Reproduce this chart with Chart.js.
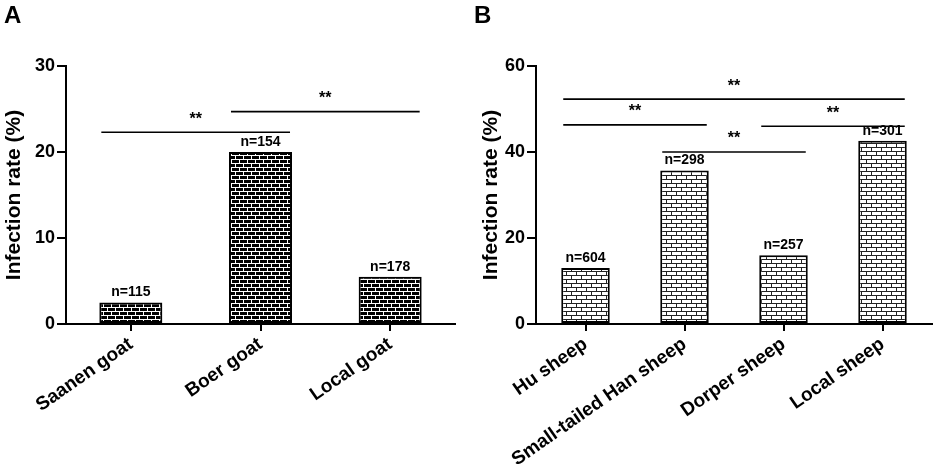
<!DOCTYPE html>
<html>
<head>
<meta charset="utf-8">
<script src="https://cdn.jsdelivr.net/npm/chart.js@4"></script>
<style>
  html, body { margin: 0; padding: 0; background: #fff; }
  #wrap { position: relative; width: 935px; height: 469px; overflow: hidden; }
  .panel { position: absolute; top: 0; height: 469px; }
  .letter { position: absolute; top: 1px; font: bold 24px "Liberation Sans", Arial, sans-serif; color: #000; }
</style>
</head>
<body>
<div id="wrap">
  <div class="panel" style="left:0;width:467px"><canvas id="goatChart" width="467" height="469"></canvas></div>
  <div class="panel" style="left:467px;width:468px"><canvas id="sheepChart" width="468" height="469"></canvas></div>
  <div class="letter" style="left:4px">A</div>
  <div class="letter" style="left:474px">B</div>
</div>
<script>
// Panel A - goats
const goatBreeds = ['Saanen goat', 'Boer goat', 'Local goat'];
const goatRates = [2.5, 20.0, 5.5];
const goatCounts = [115, 154, 178];
const goatTicks = [0, 10, 20, 30];
// significance bars: from bar, to bar, level (%)
const goatSigFrom = [0, 1];
const goatSigTo = [1, 2];
const goatSigLevel = [22.3, 24.7];

// Panel B - sheep
const sheepBreeds = ['Hu sheep', 'Small-tailed Han sheep', 'Dorper sheep', 'Local sheep'];
const sheepRates = [13.0, 35.7, 16.0, 42.6];
const sheepCounts = [604, 298, 257, 301];
const sheepTicks = [0, 20, 40, 60];
const sheepSigFrom = [0, 0, 2, 1];
const sheepSigTo = [3, 1, 3, 2];
const sheepSigLevel = [52.3, 46.3, 46.0, 40.0];

const sigMark = '**';
const FONT = "'Liberation Sans', Arial, sans-serif";

Chart.defaults.color = '#000';
Chart.defaults.font.family = FONT;

// brick fill patterns
function darkBricks() {
    const c = document.createElement('canvas');
    c.width = 8; c.height = 8;
    const g = c.getContext('2d');
    g.fillStyle = '#fff';
    g.fillRect(0, 0, 8, 8);
    g.fillStyle = '#000';
    g.fillRect(0, 0, 7, 3);
    g.fillRect(0, 4, 3, 3);
    g.fillRect(4, 4, 4, 3);
    return g.createPattern(c, 'repeat');
}

function lightBricks() {
    const c = document.createElement('canvas');
    c.width = 10; c.height = 8;
    const g = c.getContext('2d');
    g.fillStyle = '#fff';
    g.fillRect(0, 0, 10, 8);
    g.fillStyle = '#222';
    g.fillRect(0, 3, 10, 1);
    g.fillRect(0, 7, 10, 1);
    g.fillRect(9, 0, 1, 3);
    g.fillRect(4, 4, 1, 3);
    return g.createPattern(c, 'repeat');
}

// n= labels over bars + significance lines
const annotations = {
    id: 'annotations',
    afterDatasetsDraw(chart, args, opts) {
        const ctx = chart.ctx;
        const bars = chart.getDatasetMeta(0).data;
        const y = chart.scales.y;
        ctx.save();
        ctx.fillStyle = '#000';
        ctx.textAlign = 'center';
        ctx.textBaseline = 'bottom';
        ctx.font = 'bold 14px ' + FONT;
        bars.forEach((bar, i) => {
            ctx.fillText('n=' + opts.counts[i], bar.x, bar.y - 3);
        });
        ctx.strokeStyle = '#000';
        ctx.lineWidth = 1.6;
        ctx.font = 'bold 16px ' + FONT;
        ctx.textBaseline = 'middle';
        opts.from.forEach((f, k) => {
            const a = bars[f], b = bars[opts.to[k]];
            const x1 = a.x - a.width / 2 + 2;
            const x2 = b.x + b.width / 2 - 2;
            const py = y.getPixelForValue(opts.level[k]);
            ctx.beginPath();
            ctx.moveTo(x1, py);
            ctx.lineTo(x2, py);
            ctx.stroke();
            ctx.fillText(sigMark, (x1 + x2) / 2, py - 13);
        });
        ctx.restore();
    }
};

function makeChart(id, labels, values, counts, ticks, from, to, level, fill, opt) {
    return new Chart(document.getElementById(id), {
        type: 'bar',
        data: {
            labels: labels,
            datasets: [{
                data: values,
                backgroundColor: fill,
                borderColor: '#000',
                borderWidth: 2,
                borderSkipped: false,
                barPercentage: opt.bar,
                categoryPercentage: 1
            }]
        },
        options: {
            responsive: false,
            animation: false,
            layout: { padding: { left: 0, right: opt.right, top: 66, bottom: 0 } },
            plugins: {
                legend: { display: false },
                tooltip: { enabled: false },
                annotations: { counts: counts, from: from, to: to, level: level }
            },
            scales: {
                x: {
                    offset: true,
                    grid: { offset: false, drawOnChartArea: false, color: '#000', lineWidth: 2, tickLength: 7 },
                    border: { color: '#000', width: 2 },
                    ticks: {
                        minRotation: 35, maxRotation: 35, padding: 2,
                        font: { size: 19, weight: 'bold' }
                    },
                    afterFit(scale) {
                        scale.height = 145;
                        scale.paddingLeft = 0;
                        scale.paddingRight = 0;
                    }
                },
                y: {
                    min: ticks[0],
                    max: ticks[ticks.length - 1],
                    afterBuildTicks(scale) {
                        scale.ticks = ticks.map(v => ({ value: v }));
                    },
                    grid: { drawOnChartArea: false, color: '#000', lineWidth: 2, tickLength: 9 },
                    border: { color: '#000', width: 2 },
                    ticks: { padding: 2, font: { size: 18, weight: 'bold' } },
                    title: {
                        display: true,
                        text: 'Infection rate (%)',
                        font: { size: 21, weight: 'bold' },
                        padding: { top: opt.titlePad, bottom: 0 }
                    },
                    afterFit(scale) {
                        scale.width = opt.axisWidth;
                    }
                }
            }
        },
        plugins: [annotations]
    });
}

makeChart('goatChart', goatBreeds, goatRates, goatCounts, goatTicks,
    goatSigFrom, goatSigTo, goatSigLevel, darkBricks(),
    { bar: 0.486, right: 12, axisWidth: 66, titlePad: 1.5 });

makeChart('sheepChart', sheepBreeds, sheepRates, sheepCounts, sheepTicks,
    sheepSigFrom, sheepSigTo, sheepSigLevel, lightBricks(),
    { bar: 0.49, right: 3, axisWidth: 69, titlePad: 12 });
</script>
</body>
</html>
